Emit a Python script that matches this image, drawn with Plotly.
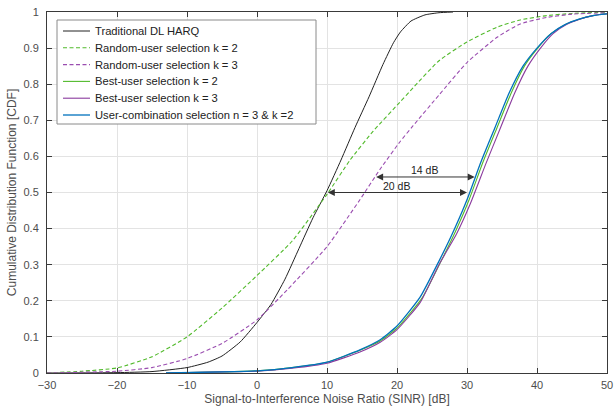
import plotly.graph_objects as go

# ---------------- data ----------------
trad_x = [-30, -20, -15, -10, -7, -5, -2.4, 0, 2, 4, 6, 8, 10, 12, 14, 16, 18, 19.5, 20.5, 22, 24, 26, 28]
trad_y = [0, 0.001, 0.004, 0.015, 0.03, 0.047, 0.086, 0.14, 0.19, 0.26, 0.345, 0.43, 0.505, 0.59, 0.68, 0.765, 0.855, 0.915, 0.945, 0.975, 0.992, 0.998, 1.0]

rand2_x = [-30, -25, -20, -15, -10, -5, 0, 5, 10, 13.3, 16.6, 20.4, 22.3, 26, 30, 34.3, 37.6, 41.4, 45, 50]
rand2_y = [0, 0.005, 0.014, 0.045, 0.1, 0.18, 0.27, 0.365, 0.495, 0.59, 0.67, 0.75, 0.79, 0.865, 0.917, 0.958, 0.978, 0.99, 0.996, 1.0]

rand3_x = [-30, -20, -15, -10, -5, 0, 4.3, 10, 14.7, 17.6, 20.4, 22.3, 26, 30, 34.3, 37.6, 41.4, 45, 50]
rand3_y = [0, 0.005, 0.015, 0.04, 0.082, 0.147, 0.23, 0.35, 0.48, 0.565, 0.64, 0.685, 0.77, 0.86, 0.93, 0.967, 0.985, 0.994, 0.998]

comb_x = [-13, -5, 0, 5, 10, 14.7, 17.6, 20, 23.3, 26, 28, 30, 32, 34, 36, 38, 40, 42, 44, 46, 48, 50]
comb_y = [0, 0.003, 0.006, 0.015, 0.03, 0.064, 0.092, 0.13, 0.21, 0.31, 0.39, 0.48, 0.585, 0.68, 0.775, 0.85, 0.90, 0.94, 0.965, 0.98, 0.99, 0.995]

best2_x = [-13, -5, 0, 5, 10, 14.7, 17.7, 20.2, 23.6, 26.3, 28.3, 30.3, 32.3, 34.3, 36.3, 38.2, 40.1, 42, 44, 46, 48, 50]
best2_y = [0, 0.003, 0.006, 0.015, 0.03, 0.063, 0.09, 0.128, 0.208, 0.31, 0.39, 0.48, 0.585, 0.68, 0.775, 0.85, 0.90, 0.94, 0.965, 0.98, 0.99, 0.995]

best3_x = [-13, -5, 0, 5, 10, 14.7, 17.6, 20, 23.3, 26, 28.5, 30.5, 32.7, 34.8, 36.8, 38.7, 40.5, 42.3, 44.2, 46.1, 48, 50]
best3_y = [0, 0.003, 0.005, 0.013, 0.027, 0.058, 0.085, 0.12, 0.195, 0.30, 0.385, 0.47, 0.58, 0.68, 0.775, 0.85, 0.90, 0.94, 0.965, 0.98, 0.99, 0.995]

names = ["Traditional DL HARQ", "Random-user selection k = 2", "Random-user selection k = 3",
         "Best-user selection k = 2", "Best-user selection k = 3",
         "User-combination selection n = 3 & k =2"]

x_ticks = [-30, -20, -10, 0, 10, 20, 30, 40, 50]
y_ticks = [0, 0.1, 0.2, 0.3, 0.4, 0.5, 0.6, 0.7, 0.8, 0.9, 1]

# arrows (dB gaps)
arr14 = dict(x0=16.8, x1=31.1, y=0.543, label="14 dB")
arr20 = dict(x0=9.9, x1=30.0, y=0.5, label="20 dB")

# ---------------- figure ----------------
fig = go.Figure()
series = [
    (trad_x, trad_y, "#222222", "solid", 1.0),
    (rand2_x, rand2_y, "#52BA2C", "4px,2.5px", 1.1),
    (rand3_x, rand3_y, "#9A4DB0", "4px,2.5px", 1.1),
    (best2_x, best2_y, "#52BA2C", "solid", 1.1),
    (best3_x, best3_y, "#8A3A9E", "solid", 1.1),
    (comb_x, comb_y, "#0072BD", "solid", 1.3),
]
for (xs, ys, c, d, w), n in zip(series, names):
    fig.add_trace(go.Scatter(x=xs, y=ys, mode="lines", name=n, showlegend=False,
                             line=dict(color=c, dash=d, width=w, shape="spline", smoothing=0.5)))

for a in (arr14, arr20):
    fig.add_annotation(x=a["x1"], y=a["y"], ax=a["x0"], ay=a["y"], xref="x", yref="y",
                       axref="x", ayref="y", text="", showarrow=True, arrowhead=2,
                       arrowside="end+start", arrowsize=1.4, arrowwidth=1, arrowcolor="#333333")
    fig.add_annotation(x=(a["x0"] + a["x1"]) / 2, y=a["y"], xref="x", yref="y", text=a["label"],
                       yanchor="bottom", yshift=-1,
                       showarrow=False, font=dict(size=10.5, color="#222222"))

font_family = "Liberation Sans, Arial, sans-serif"

# ---- legend drawn as a box (layout decoration, paper coordinates) ----
L, R, T, B = 47, 607, 12, 373          # plot area in pixels
W, H = R - L, B - T
px = lambda v: (v - L) / W
py = lambda v: (B - v) / H
fig.add_shape(type="rect", xref="paper", yref="paper", x0=px(57), x1=px(316), y0=py(124), y1=py(20),
              line=dict(color="#8a8a8a", width=1), fillcolor="white", layer="above")
for i, ((xs, ys, c, d, w), n) in enumerate(zip(series, names)):
    yy = py(31 + 16.8 * i)
    fig.add_shape(type="line", xref="paper", yref="paper", x0=px(63), x1=px(90), y0=yy, y1=yy,
                  line=dict(color=c, dash=d, width=w), layer="above")
    fig.add_annotation(x=px(93), y=yy, xref="paper", yref="paper", text=n, showarrow=False,
                       xanchor="left", yanchor="middle",
                       font=dict(size=11.2, color="#222222", family=font_family))

axis_common = dict(showline=True, linecolor="#3a3a3a", linewidth=1, mirror="ticks",
                   ticks="inside", ticklen=5, tickcolor="#3a3a3a", automargin=False,
                   showgrid=True, gridcolor="#e3e3e3", gridwidth=1, zeroline=False,
                   tickfont=dict(size=11, color="#4d4d4d", family=font_family))

fig.update_xaxes(range=[-30, 50], tickvals=x_ticks, **axis_common, ticklabelstandoff=2,
                 title=dict(text="Signal-to-Interference Noise Ratio (SINR) [dB]",
                            font=dict(size=12, color="#4d4d4d", family=font_family), standoff=4))
fig.update_yaxes(range=[0, 1], tickvals=y_ticks, **axis_common, ticklabelstandoff=5,
                 title=dict(text="Cumulative Distribution Function [CDF]",
                            font=dict(size=12, color="#4d4d4d", family=font_family), standoff=4))

fig.update_layout(
    width=615, height=416,
    margin=dict(l=L, r=615 - R, t=T, b=416 - B),
    paper_bgcolor="white", plot_bgcolor="white",
    font=dict(family=font_family, color="#222222"),
    showlegend=False,
)

fig.write_html("out.html", config={"displayModeBar": False},
               post_script="document.body.style.margin='0px';")
